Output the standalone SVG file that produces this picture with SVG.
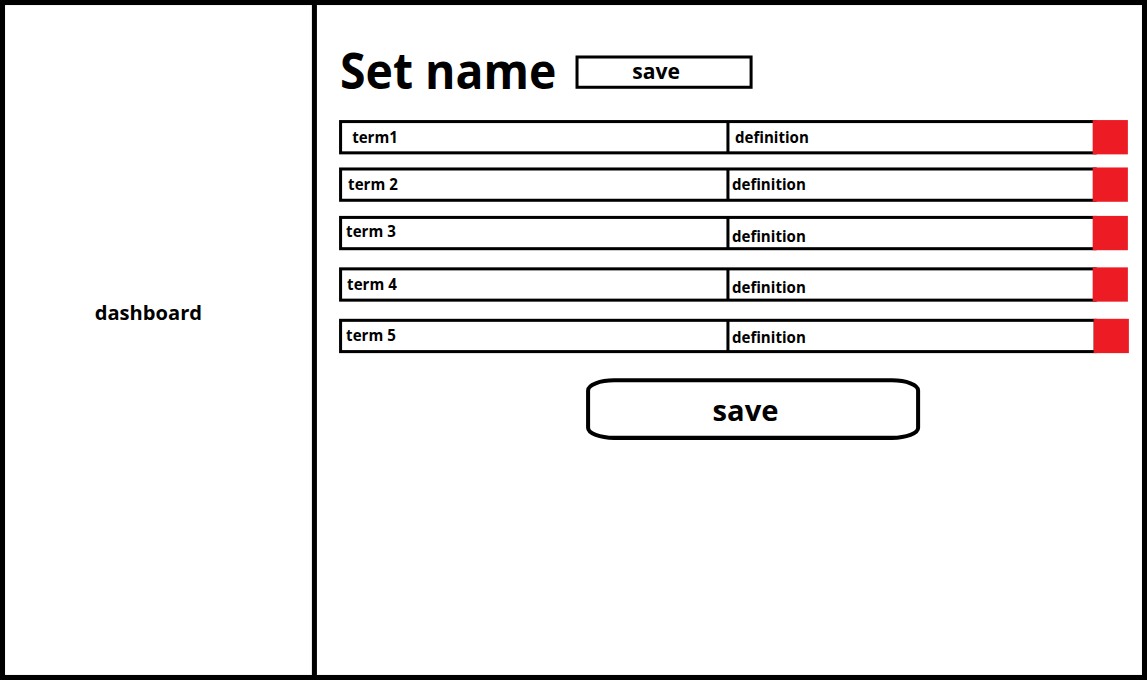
<svg xmlns="http://www.w3.org/2000/svg" width="1147" height="680" viewBox="0 0 1147 680">
<style>
.t{font-family:"Open Sans","Noto Sans","Liberation Sans",sans-serif;font-weight:bold;fill:#000}
.row{fill:#fff;stroke:#000;stroke-width:3}
.del{fill:#ED1C24}
.sep{stroke:#000;stroke-width:3}
</style>
<rect width="1147" height="680" fill="#fff"/>
<g transform="scale(1.00614,1.0089)">
<g id="frame">
<rect x="2.5" y="2.5" width="1135" height="669" fill="none" stroke="#000" stroke-width="5"/>
<line x1="312.5" y1="2" x2="312.5" y2="672" stroke="#000" stroke-width="5"/>
</g>
<g id="dashboard">
<text class="t" x="147.5" y="317" font-size="20" text-anchor="middle">dashboard</text>
</g>
<g id="title">
<text class="t" x="338" y="88" font-size="49" textLength="215" lengthAdjust="spacingAndGlyphs">Set name</text>
</g>
<g id="save-small">
<rect x="573.5" y="56.5" width="173" height="30" fill="#fff" stroke="#000" stroke-width="3"/>
<text class="t" x="652" y="78" font-size="21" text-anchor="middle">save</text>
</g>
<g id="row1">
<rect class="row" x="338.5" y="120.5" width="750" height="31"/>
<line class="sep" x1="723.5" y1="120" x2="723.5" y2="152"/>
<rect class="del" x="1086" y="119" width="35" height="34"/>
<text class="t" x="350" y="141.5" font-size="15">term1</text>
<text class="t" x="730.5" y="141.5" font-size="15">definition</text>
</g>
<g id="row2">
<rect class="row" x="338.5" y="167.5" width="750" height="31"/>
<line class="sep" x1="723.5" y1="167" x2="723.5" y2="199"/>
<rect class="del" x="1086" y="166" width="35" height="34"/>
<text class="t" x="346" y="188.5" font-size="15">term 2</text>
<text class="t" x="727.5" y="188.5" font-size="15">definition</text>
</g>
<g id="row3">
<rect class="row" x="338.5" y="215.5" width="750" height="31"/>
<line class="sep" x1="723.5" y1="215" x2="723.5" y2="247"/>
<rect class="del" x="1086" y="214" width="35" height="34"/>
<text class="t" x="344" y="235" font-size="15">term 3</text>
<text class="t" x="727.5" y="240" font-size="15">definition</text>
</g>
<g id="row4">
<rect class="row" x="338.5" y="266.5" width="750" height="31"/>
<line class="sep" x1="723.5" y1="266" x2="723.5" y2="298"/>
<rect class="del" x="1086" y="265" width="35" height="34"/>
<text class="t" x="345" y="287" font-size="15">term 4</text>
<text class="t" x="727.5" y="290" font-size="15">definition</text>
</g>
<g id="row5">
<rect class="row" x="338.5" y="317.5" width="750" height="31"/>
<line class="sep" x1="723.5" y1="317" x2="723.5" y2="349"/>
<rect class="del" x="1087" y="316" width="35" height="34"/>
<text class="t" x="344" y="338.5" font-size="15">term 5</text>
<text class="t" x="727.5" y="339.5" font-size="15">definition</text>
</g>
<g id="save-big">
<rect x="584.5" y="377" width="328" height="57" rx="26" ry="10" fill="#fff" stroke="#000" stroke-width="4"/>
<text class="t" x="741" y="417" font-size="29" text-anchor="middle">save</text>
</g>
</g>
</svg>
